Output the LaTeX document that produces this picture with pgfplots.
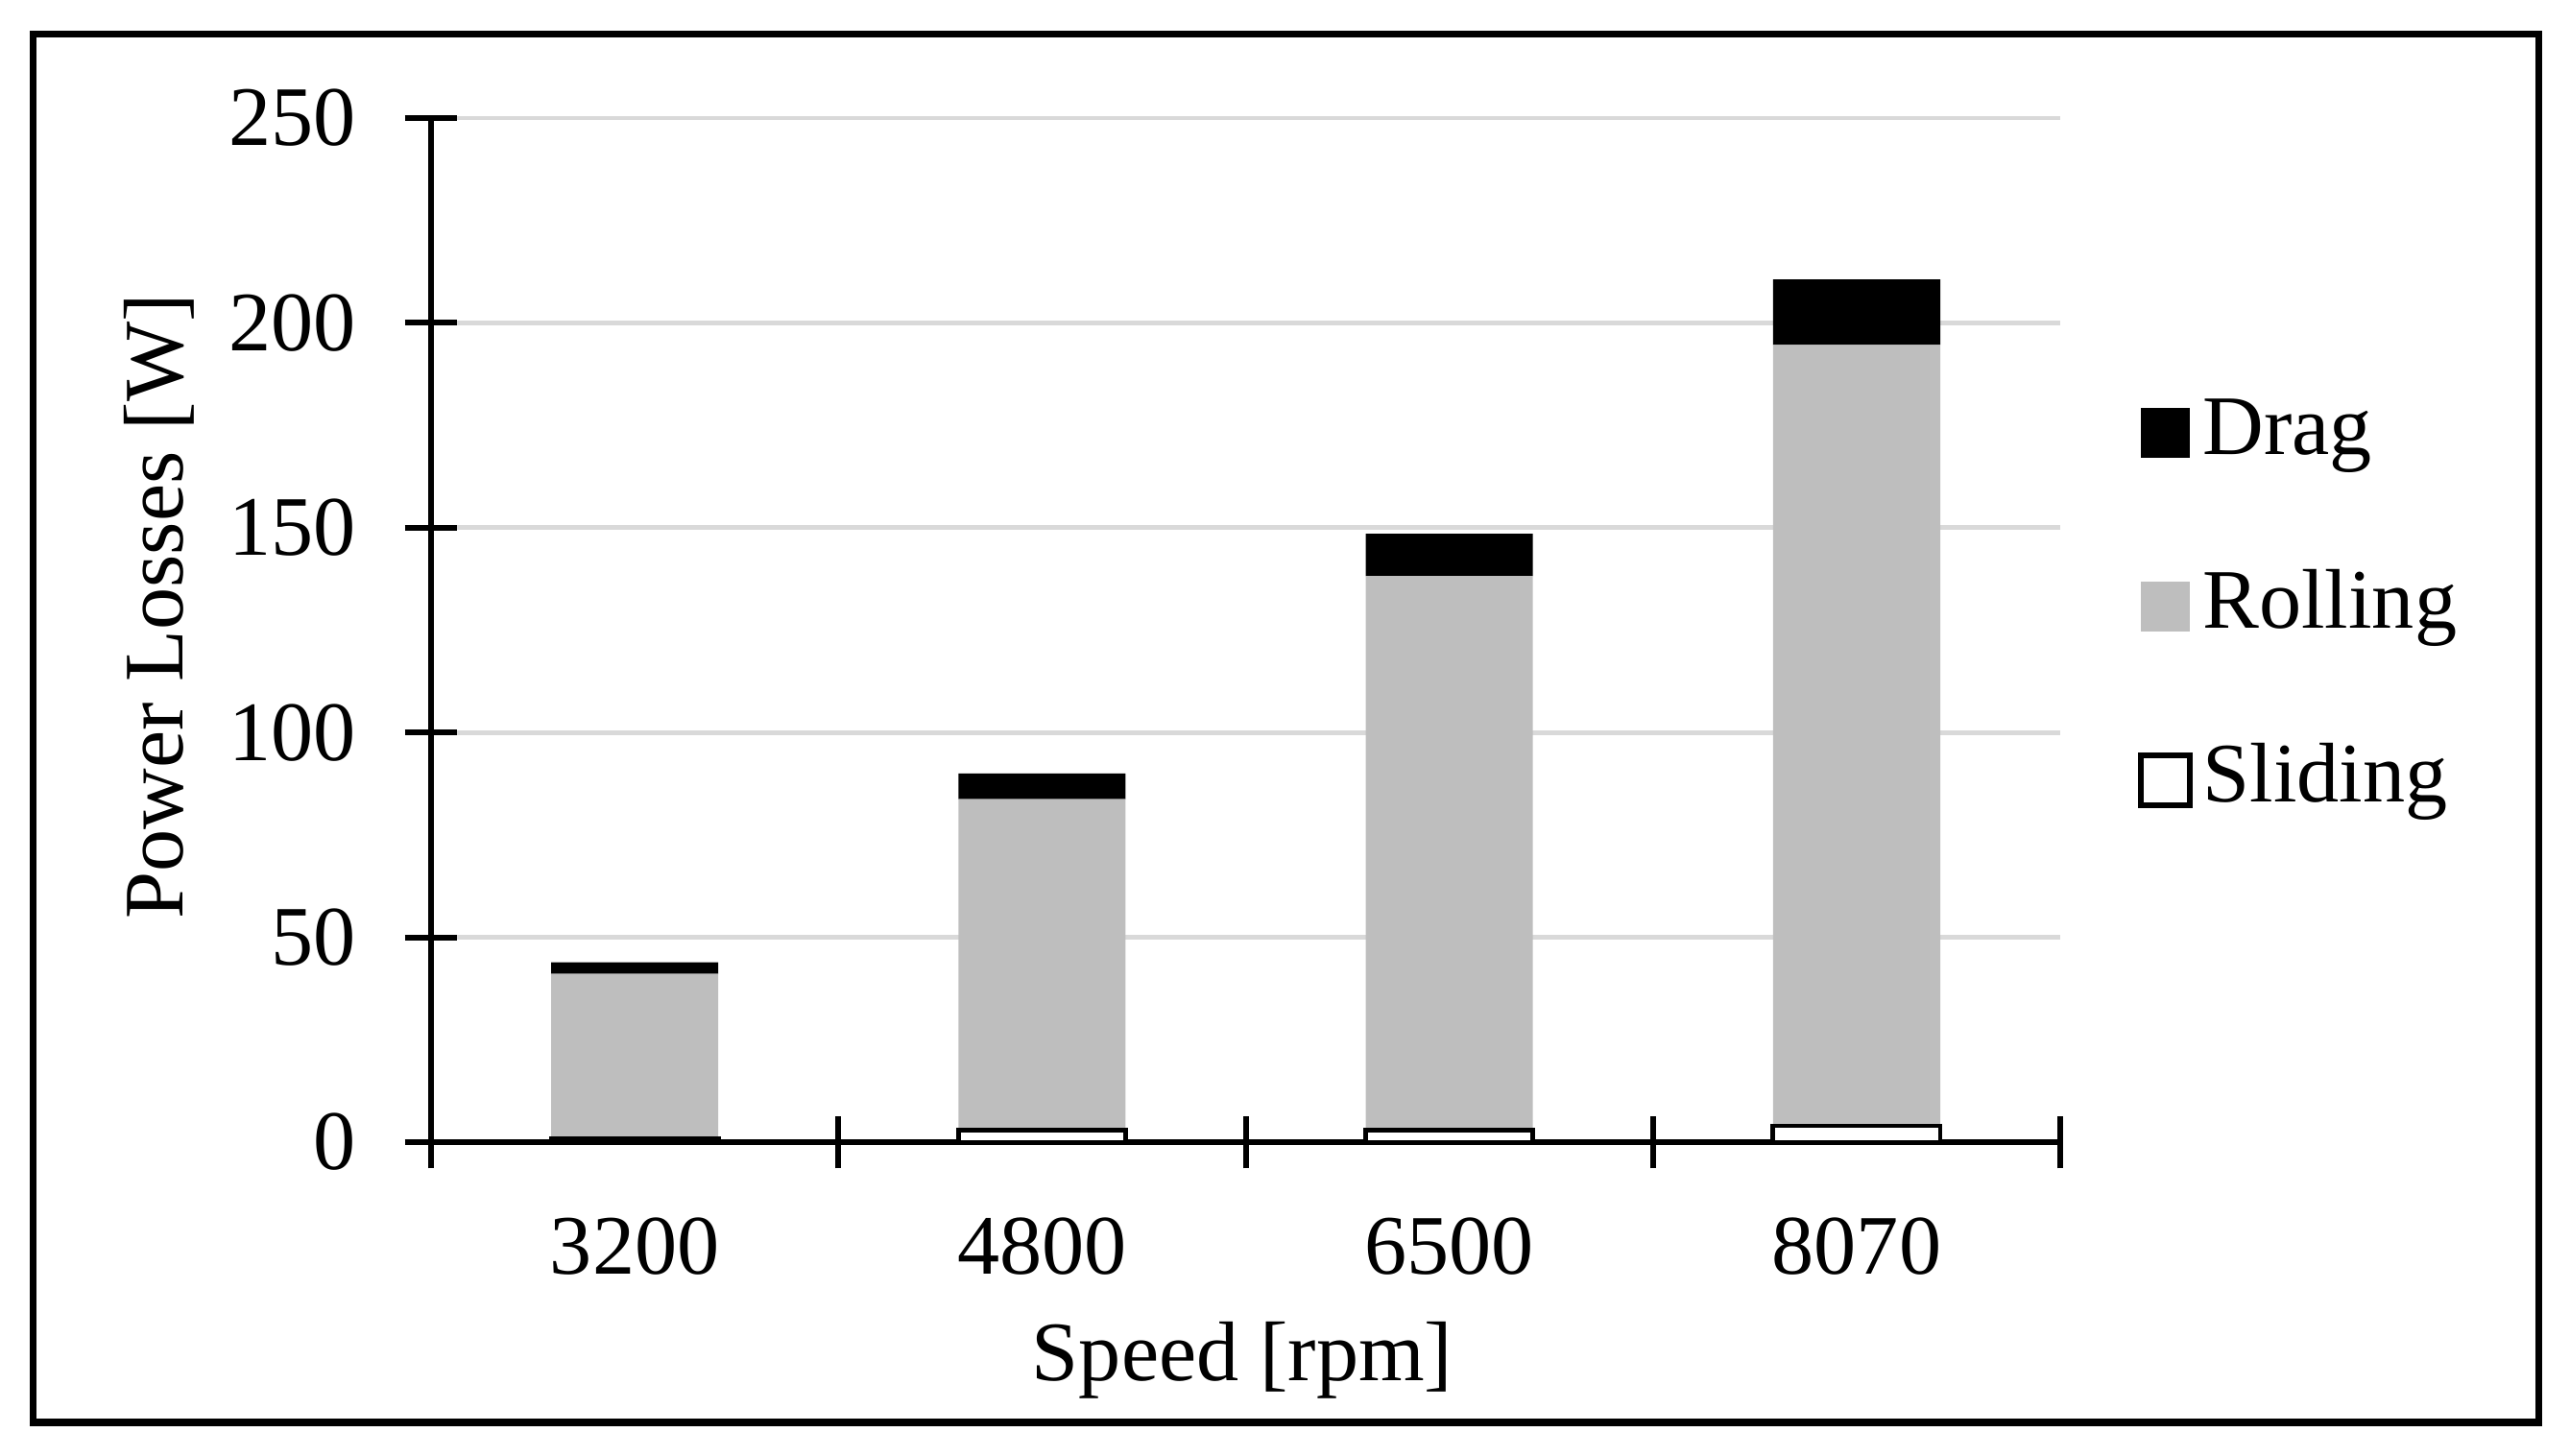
\documentclass[border=0pt]{standalone}
\usepackage{pgfplots}
\pgfplotsset{compat=1.18}
\usepackage{fontspec}
\setmainfont{Liberation Serif}
\definecolor{rollgray}{RGB}{190,190,190}
\definecolor{gridgray}{RGB}{217,217,217}
\begin{document}
\fontsize{14.7}{17}\selectfont
\begin{tikzpicture}
\useasboundingbox (0,0) rectangle (15.68,8.88);
\draw[line width=1.2pt] (0.20,0.20) rectangle (15.49,8.67);
\begin{axis}[
  at={(2.63cm,1.91cm)}, anchor=south west,
  scale only axis, width=9.94cm, height=6.25cm,
  xmin=-0.5, xmax=3.5, ymin=0, ymax=250,
  ybar stacked, bar width=1.02cm,
  axis x line*=bottom, axis y line*=left,
  axis line style={line width=1pt, black},
  xtick={-0.5,0.5,1.5,2.5,3.5}, xticklabels={\empty},
  extra x ticks={0,1,2,3},
  extra x tick labels={3200,4800,6500,8070},
  extra x tick style={tick style={draw=none}, grid=none},
  ytick={0,50,100,150,200,250},
  major tick length=0.32cm,
  tick align=center,
  tick style={black, line width=1pt},
  ymajorgrids, grid style={gridgray, line width=0.8pt},
  /pgf/number format/assume math mode=true,
  tick label style={font=\fontsize{14.7}{17}\selectfont},
  yticklabel style={xshift=-0.12cm},
  xticklabel style={yshift=-0.12cm},
  xlabel={Speed [rpm]},
  ylabel={Power Losses [W]},
  xlabel style={at={(axis description cs:0.498,-0.213)}, anchor=center},
  ylabel style={at={(axis description cs:-0.167,0.523)}, anchor=center},
  label style={font=\fontsize{14.7}{17}\selectfont},
  reverse legend,
  legend style={at={(axis description cs:1.047,0.523)}, anchor=west,
    draw=none, fill=none, inner sep=0pt, row sep=0.6cm, column sep=0.06cm,
    font=\fontsize{14.7}{17}\selectfont,
    nodes={inner sep=0pt, text height=0.36cm, text depth=0.1cm}},
  legend cell align=left,
]
\addplot[fill=white, draw=black, line width=0.8pt,
  legend image code/.code={\draw[fill=white,draw=black,line width=1pt] (0cm,-0.15cm) rectangle (0.3cm,0.15cm);}]
  coordinates {(0,0.8) (1,3.0) (2,2.9) (3,4.0)};
\addlegendentry{Sliding}
\addplot[fill=rollgray, draw=none,
  legend image code/.code={\fill[rollgray] (0cm,-0.15cm) rectangle (0.3cm,0.15cm);}]
  coordinates {(0,40.3) (1,80.7) (2,135.3) (3,190.6)};
\addlegendentry{Rolling}
\addplot[fill=black, draw=none,
  legend image code/.code={\fill[black] (0cm,-0.15cm) rectangle (0.3cm,0.15cm);}]
  coordinates {(0,2.8) (1,6.3) (2,10.3) (3,16.0)};
\addlegendentry{Drag}
\end{axis}
\end{tikzpicture}
\end{document}
